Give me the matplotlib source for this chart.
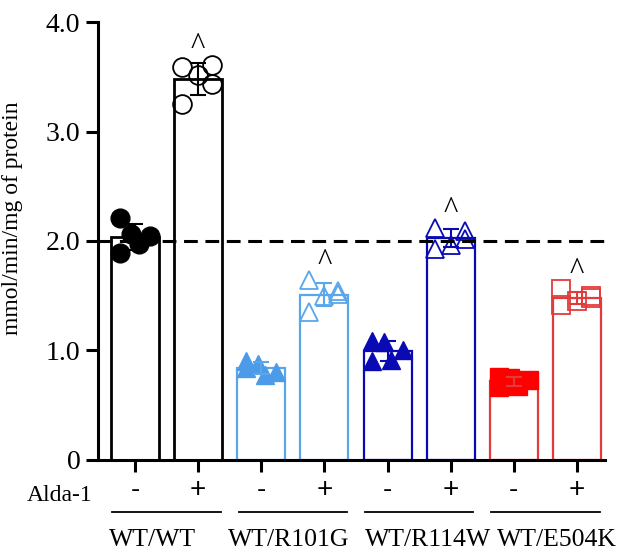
import numpy as np
import matplotlib
matplotlib.use('Agg')
import matplotlib.pyplot as plt
import matplotlib.transforms as mtransforms

# ---- data ----
genotypes = ['WT/WT', 'WT/R101G', 'WT/R114W', 'WT/E504K']
alda_labels = ['-', '+']
# individual replicates, Alda-1 minus / plus for each genotype
vals_minus = [
    [2.21, 2.06, 2.05, 1.97, 1.89],
    [0.90, 0.88, 0.80, 0.78, 0.84],
    [1.09, 1.08, 1.00, 0.91, 0.90],
    [0.76, 0.75, 0.73, 0.68, 0.67],
]
vals_plus = [
    [3.59, 3.61, 3.43, 3.52, 3.25],
    [1.64, 1.54, 1.52, 1.50, 1.35],
    [2.12, 2.09, 2.02, 1.96, 1.93],
    [1.56, 1.50, 1.48, 1.45, 1.42],
]
wt_level = 2.0
yticks = [0, 1.0, 2.0, 3.0, 4.0]
ytick_labels = ['0', '1.0', '2.0', '3.0', '4.0']

# ---- styles ----
colors = ['black', '#4c9be8', '#0a0ab4', '#ff0000']
edge_colors = ['black', '#5aa6ea', '#0a0ab4', '#e23b3b']
markers = ['o', '^', '^', 's']
msizes = [13.5, 12.5, 12.5, 12.5]
jitter_minus = [-0.24, -0.06, 0.24, 0.06, -0.24]
jitter_plus = [-0.25, 0.22, 0.22, 0.0, -0.25]
serif = ['Liberation Serif', 'DejaVu Serif']

fig = plt.figure(figsize=(6.19, 5.6), dpi=100)
ax = fig.add_axes([0.158, 0.1786, 0.819, 0.7821])

bar_w = 0.76
for g in range(4):
    for k, (vals, jit) in enumerate([(vals_minus[g], jitter_minus), (vals_plus[g], jitter_plus)]):
        x = 2 * g + k
        v = np.array(vals)
        m = v.mean()
        sd = v.std(ddof=1)
        lw = 2.0 if g == 0 else 1.6
        ax.bar(x, m, width=bar_w, facecolor='white', edgecolor=edge_colors[g],
               linewidth=lw, zorder=2)
        xs = x + np.array(jit)
        if k == 0:
            ax.plot(xs, v, linestyle='none', marker=markers[g], ms=msizes[g],
                    mfc=colors[g], mec=colors[g], zorder=3)
        else:
            ax.plot(xs, v, linestyle='none', marker=markers[g], ms=msizes[g],
                    mfc='none', mec=edge_colors[g], mew=1.3, zorder=3)
        ax.errorbar(x, m, yerr=sd, color=edge_colors[g], capsize=6,
                    elinewidth=1.5, capthick=1.5, zorder=4)
        if k == 1:
            # significance caret above the Alda-1 treated bar
            ax.text(x, v.max() + 0.03, '^', ha='center', va='bottom',
                    fontsize=22, family=serif, color='black')

ax.axhline(wt_level, color='black', lw=2.2, ls=(0, (4.5, 2.5)), zorder=5)

ax.set_xlim(-0.59, 7.44)
ax.set_ylim(0, 4.0)
ax.set_yticks(yticks)
ax.set_yticklabels(ytick_labels, family=serif, fontsize=20)
ax.set_xticks(range(8))
ax.set_xticklabels(alda_labels * 4, fontsize=20, family='Liberation Sans')
for s in ['top', 'right']:
    ax.spines[s].set_visible(False)
for s in ['left', 'bottom']:
    ax.spines[s].set_linewidth(2.2)
ax.tick_params(axis='both', length=8.5, width=2.2)
ax.tick_params(axis='y', pad=4)
ax.tick_params(axis='x', pad=4)

ax.set_ylabel('mmol/min/mg of protein', family=serif, fontsize=17)
ax.yaxis.set_label_coords(-0.148, 0.553)

# Alda-1 row label, group underlines and genotype labels
trans = mtransforms.blended_transform_factory(ax.transData, ax.transAxes)
ax.text(-0.68, -0.08, 'Alda-1', transform=trans, ha='right', va='center',
        fontsize=17, family=serif, clip_on=False)
label_x = [0.28, 2.43, 4.64, 6.68]
for g in range(4):
    c = 2 * g + 0.5
    ax.plot([c - 0.86, c + 0.86], [-0.119, -0.119], transform=trans,
            color='black', lw=1.3, clip_on=False)
    ax.text(label_x[g], -0.183, genotypes[g], transform=trans, ha='center',
            va='center', fontsize=18.5, family=serif, clip_on=False)

fig.savefig('out.png', dpi=100)
